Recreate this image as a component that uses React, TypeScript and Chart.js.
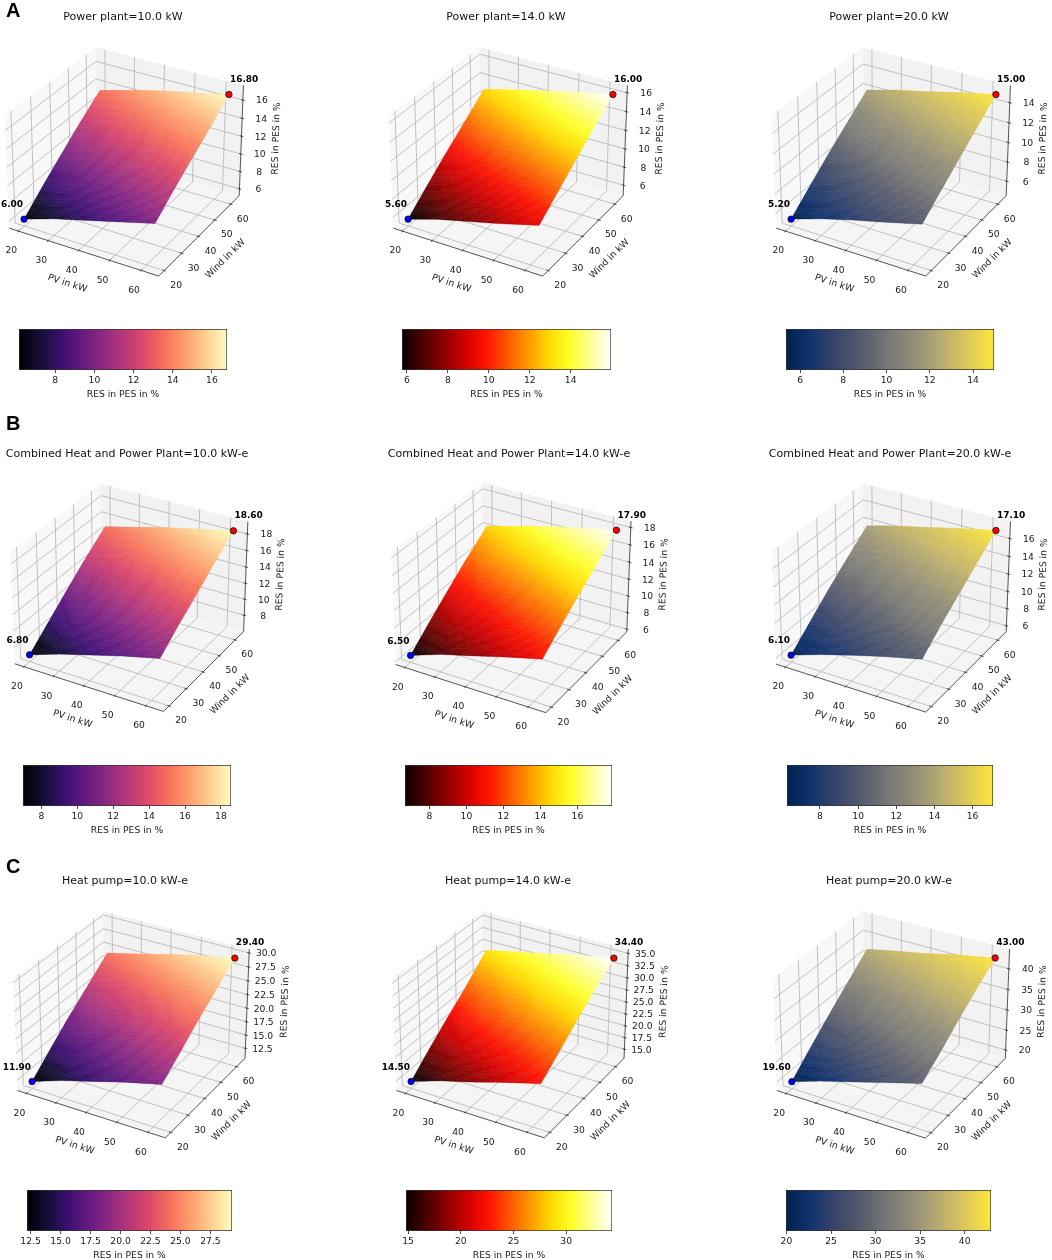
import React, { useEffect, useRef } from 'react';
import Chart from 'chart.js/auto';

const FONT = "'DejaVu Sans', sans-serif";
const AXIS_LABEL_PV = 'PV in kW';
const AXIS_LABEL_WIND = 'Wind in kW';
const AXIS_LABEL_RES = 'RES in PES in %';

// row A, B, C and left to right
const titles = [
  'Power plant=10.0 kW', 'Power plant=14.0 kW', 'Power plant=20.0 kW',
  'Combined Heat and Power Plant=10.0 kW-e', 'Combined Heat and Power Plant=14.0 kW-e', 'Combined Heat and Power Plant=20.0 kW-e',
  'Heat pump=10.0 kW-e', 'Heat pump=14.0 kW-e', 'Heat pump=20.0 kW-e',
];
const minValues = [6.0, 5.6, 5.2, 6.8, 6.5, 6.1, 11.9, 14.5, 19.6];
const maxValues = [16.8, 16.0, 15.0, 18.6, 17.9, 17.1, 29.4, 34.4, 43.0];

const pvGrid = [20, 30, 40, 50, 62.5];
const windGrid = [20, 30, 40, 50, 62.5];
const xyTicks = [20, 30, 40, 50, 60];

// surface values, one row per wind step, one column per pv step
const surfaces = [
  [[6.0, 7.1, 8.0, 8.9, 10.05], [7.9, 8.95, 9.8, 10.7, 11.75], [9.7, 10.7, 11.5, 12.4, 13.3], [11.45, 12.45, 13.2, 14.0, 14.8], [13.45, 14.35, 15.2, 15.9, 16.8]],
  [[5.6, 6.6, 7.4, 8.2, 9.3], [7.4, 8.35, 9.15, 9.9, 10.9], [9.15, 10.1, 10.9, 11.65, 12.5], [10.8, 11.75, 12.5, 13.25, 14.1], [12.9, 13.7, 14.45, 15.2, 16.0]],
  [[5.2, 6.2, 7.05, 7.8, 8.8], [6.9, 7.8, 8.65, 9.4, 10.3], [8.55, 9.45, 10.25, 10.95, 11.75], [10.1, 11.0, 11.75, 12.4, 13.2], [12.0, 12.8, 13.45, 14.2, 15.0]],
  [[6.8, 8.05, 9.1, 10.15, 11.3], [8.8, 10.1, 11.05, 12.0, 13.15], [10.8, 12.0, 12.85, 13.8, 14.8], [12.75, 13.85, 14.7, 15.6, 16.55], [14.95, 15.85, 16.8, 17.6, 18.6]],
  [[6.5, 7.75, 8.7, 9.7, 10.85], [8.5, 9.7, 10.55, 11.55, 12.6], [10.4, 11.5, 12.35, 13.25, 14.3], [12.25, 13.35, 14.1, 15.0, 15.85], [14.35, 15.25, 16.2, 17.0, 17.9]],
  [[6.1, 7.25, 8.25, 9.2, 10.25], [8.0, 9.15, 10.05, 11.0, 12.0], [9.9, 10.9, 11.75, 12.65, 13.6], [11.65, 12.65, 13.5, 14.3, 15.15], [13.75, 14.65, 15.4, 16.2, 17.1]],
  [[11.9, 13.8, 15.35, 16.95, 18.7], [15.0, 16.7, 18.2, 19.6, 21.3], [18.0, 19.5, 21.0, 22.3, 24.0], [20.7, 22.2, 23.5, 24.8, 26.4], [24.15, 25.45, 26.8, 28.1, 29.4]],
  [[14.5, 16.6, 18.3, 20.2, 22.4], [18.05, 20.1, 21.75, 23.4, 25.3], [21.4, 23.4, 24.95, 26.5, 28.3], [24.55, 26.45, 27.95, 29.5, 31.2], [29.0, 30.35, 31.6, 33.05, 34.4]],
  [[19.6, 22.05, 24.15, 26.3, 28.95], [23.95, 26.35, 28.2, 30.1, 32.2], [28.1, 30.35, 32.0, 33.75, 35.75], [32.05, 34.1, 35.7, 37.3, 39.05], [36.9, 38.35, 39.7, 41.35, 43.0]],
];

const zTicks = [
  [6, 8, 10, 12, 14, 16], [6, 8, 10, 12, 14, 16], [6, 8, 10, 12, 14],
  [8, 10, 12, 14, 16, 18], [6, 8, 10, 12, 14, 16, 18], [6, 8, 10, 12, 14, 16],
  [12.5, 15, 17.5, 20, 22.5, 25, 27.5, 30], [15, 17.5, 20, 22.5, 25, 27.5, 30, 32.5, 35], [20, 25, 30, 35, 40],
];
const barTicks = [
  [8, 10, 12, 14, 16], [6, 8, 10, 12, 14], [6, 8, 10, 12, 14],
  [8, 10, 12, 14, 16, 18], [8, 10, 12, 14, 16], [8, 10, 12, 14, 16],
  [12.5, 15, 17.5, 20, 22.5, 25, 27.5], [15, 20, 25, 30], [20, 25, 30, 35, 40],
];
const barMins = [6.15, 5.76, 5.35, 6.98, 6.68, 6.27, 12.2, 14.8, 19.95];
const barMaxs = [16.77, 15.97, 14.97, 18.56, 17.87, 17.07, 29.3, 34.35, 42.95];

const magma = ['#000004', '#140e36', '#3b0f70', '#641a80', '#8c2981', '#b73779', '#de4968', '#f7705c', '#fe9f6d', '#fecf92', '#fcfdbf'];
const hot = ['#0b0000', '#4c0000', '#8e0000', '#d00000', '#ff1200', '#ff5400', '#ff9600', '#ffd800', '#ffff28', '#ffff94', '#ffffff'];
const cividis = ['#00224e', '#0d2f6b', '#2c3f6b', '#47506c', '#5f626e', '#7a7a76', '#8f8a78', '#a9a073', '#c8b867', '#e3cd54', '#fee838'];
const colormaps = [magma, hot, cividis];

// placement on the page
const panelCx = [126.3, 510, 893, 131, 512.5, 893, 133, 512, 893];
const panelCy = [157, 157, 157, 593, 593, 593, 1020, 1020, 1020];
const panelScale = [198, 198, 198, 197, 199, 198, 196, 196, 196.5];
const titleX = [123, 506, 889, 127, 509, 890, 125, 508, 889];
const titleY = [16, 16, 16, 453, 453, 453, 880, 880, 880];
const barLeft = [19, 402, 786, 23, 405, 787, 27, 406, 786];
const barRight = [227, 611, 994, 231, 612, 993, 232, 612, 991];
const barTop = [329, 329, 329, 765, 765, 765, 1190, 1190, 1190];
const letters = ['A', 'B', 'C'];
const letterTop = [-1, 412, 855];

// axis box
const X_LIM = [16.9, 65.5];
const BOX_Z = 0.75;
const DIST = 10;
const U = [0.75, 0.433, 0];
const V = [-0.2165, 0.375, 0.75];
const W = [0.433, -0.75, 0.5];

const CANVAS_LEFT = 140;
const CANVAS_RIGHT = 160;
const CANVAS_UP = 150;
const CANVAS_DOWN = 145;
const SOFTEN = 'blur(0.35px)';

const dot = (a: number[], b: number[]) => a[0] * b[0] + a[1] * b[1] + a[2] * b[2];

// normalised box coords to the flat view plane
const viewOf = (nx: number, ny: number, nz: number) => {
  const d = [nx - 0.5, ny - 0.5, (nz - 0.5) * BOX_Z];
  const f = DIST / (DIST - dot(W, d));
  return { x: dot(U, d) * f, y: dot(V, d) * f };
};

const zLimits = (i: number) => {
  const r = maxValues[i] - minValues[i];
  const lo = minValues[i] - r * 0.05;
  const hi = maxValues[i] + r * 0.05;
  const pad = (hi - lo) / 48;
  return [lo - pad, hi + pad];
};

const normX = (v: number) => (v - X_LIM[0]) / (X_LIM[1] - X_LIM[0]);
const normZ = (i: number, v: number) => {
  const [lo, hi] = zLimits(i);
  return (v - lo) / (hi - lo);
};

const hexToRgb = (h: string) => [parseInt(h.slice(1, 3), 16), parseInt(h.slice(3, 5), 16), parseInt(h.slice(5, 7), 16)];

const colorAt = (stops: string[], t: number) => {
  const c = Math.min(Math.max(t, 0), 1) * (stops.length - 1);
  const k = Math.min(Math.floor(c), stops.length - 2);
  const a = hexToRgb(stops[k]);
  const b = hexToRgb(stops[k + 1]);
  const m = c - k;
  return `rgb(${Math.round(a[0] + (b[0] - a[0]) * m)},${Math.round(a[1] + (b[1] - a[1]) * m)},${Math.round(a[2] + (b[2] - a[2]) * m)})`;
};

// value of the surface between the read grid points, for shading the mesh
const surfaceAt = (i: number, fx: number, fy: number) => {
  const rows = surfaces[i];
  const a = Math.min(Math.floor(fx), pvGrid.length - 2);
  const b = Math.min(Math.floor(fy), windGrid.length - 2);
  const mx = fx - a;
  const my = fy - b;
  return (rows[b][a] * (1 - mx) + rows[b][a + 1] * mx) * (1 - my) + (rows[b + 1][a] * (1 - mx) + rows[b + 1][a + 1] * mx) * my;
};

const gridPos = (grid: number[], f: number) => {
  const a = Math.min(Math.floor(f), grid.length - 2);
  return grid[a] + (grid[a + 1] - grid[a]) * (f - a);
};

const MESH_STEPS = 60;

const axesPlugin = (i: number) => ({
  id: 'axes3d',
  beforeDatasetsDraw(chart: any) {
    const { ctx, scales } = chart;
    const px = (p: { x: number; y: number }) => [scales.x.getPixelForValue(p.x), scales.y.getPixelForValue(p.y)];
    const at = (nx: number, ny: number, nz: number) => px(viewOf(nx, ny, nz));
    const poly = (pts: number[][], fill: string, edge = false) => {
      ctx.beginPath();
      pts.forEach((p, k) => (k ? ctx.lineTo(p[0], p[1]) : ctx.moveTo(p[0], p[1])));
      ctx.closePath();
      ctx.fillStyle = fill;
      ctx.fill();
      if (edge) {
        ctx.strokeStyle = fill;
        ctx.lineWidth = 0.35;
        ctx.stroke();
      }
    };
    const line = (a: number[], b: number[], color: string, w: number) => {
      ctx.beginPath();
      ctx.moveTo(a[0], a[1]);
      ctx.lineTo(b[0], b[1]);
      ctx.strokeStyle = color;
      ctx.lineWidth = w;
      ctx.stroke();
    };
    const text = (s: string, x: number, y: number, rot = 0) => {
      ctx.save();
      ctx.translate(x, y);
      ctx.rotate((rot * Math.PI) / 180);
      ctx.fillStyle = '#1a1a1a';
      ctx.font = `9.2px ${FONT}`;
      ctx.textAlign = 'center';
      ctx.textBaseline = 'middle';
      ctx.fillText(s, 0, 0);
      ctx.restore();
    };

    ctx.save();
    // panes
    poly([at(0, 0, 0), at(0, 1, 0), at(0, 1, 1), at(0, 0, 1)], 'rgba(242,242,242,0.5)');
    poly([at(0, 1, 0), at(1, 1, 0), at(1, 1, 1), at(0, 1, 1)], 'rgba(230,230,230,0.5)');
    poly([at(0, 0, 0), at(1, 0, 0), at(1, 1, 0), at(0, 1, 0)], 'rgba(236,236,236,0.55)');

    // grid on the three panes
    const gridColor = '#b4b4b4';
    xyTicks.forEach((t) => {
      const n = normX(t);
      line(at(n, 0, 0), at(n, 1, 0), gridColor, 0.8);
      line(at(n, 1, 0), at(n, 1, 1), gridColor, 0.8);
      line(at(0, n, 0), at(1, n, 0), gridColor, 0.8);
      line(at(0, n, 0), at(0, n, 1), gridColor, 0.8);
    });
    zTicks[i].forEach((t) => {
      const n = normZ(i, t);
      line(at(0, 0, n), at(0, 1, n), gridColor, 0.8);
      line(at(0, 1, n), at(1, 1, n), gridColor, 0.8);
    });

    // axis lines and ticks
    const axisColor = '#2a2a2a';
    line(at(0, 0, 0), at(1, 0, 0), axisColor, 0.8);
    line(at(1, 0, 0), at(1, 1, 0), axisColor, 0.8);
    line(at(1, 1, 0), at(1, 1, 1), axisColor, 0.8);
    xyTicks.forEach((t) => {
      const n = normX(t);
      line(at(n, 0.012, 0), at(n, -0.012, 0), axisColor, 0.8);
      const p = at(n, 0, 0);
      text(String(t), p[0] - 7, p[1] + 20);
      line(at(1.012, n, 0), at(0.988, n, 0), axisColor, 0.8);
      const q = at(1, n, 0);
      text(String(t), q[0] + 12, q[1] + 15);
    });
    const decimals = !Number.isInteger(zTicks[i][1] - zTicks[i][0]);
    zTicks[i].forEach((t) => {
      const n = normZ(i, t);
      line(at(1.012, 1, n), at(0.988, 1, n), axisColor, 0.8);
      const p = at(1, 1, n);
      text(decimals ? t.toFixed(1) : String(t), p[0] + (decimals ? 17 : 19), p[1] + 1);
    });
    const pvMid = at(0.5, 0, 0);
    text(AXIS_LABEL_PV, pvMid[0] - 15, pvMid[1] + 32, 18);
    const windMid = at(1, 0.5, 0);
    text(AXIS_LABEL_WIND, windMid[0] + 25, windMid[1] + 24.5, -45);
    const zMid = at(1, 1, 0.5);
    text(AXIS_LABEL_RES, zMid[0] + (decimals ? 38 : 35), zMid[1] - 3, -88);

    // surface mesh, each cell coloured by its mean value
    const stops = colormaps[i % 3];
    const last = pvGrid.length - 1;
    for (let b = 0; b < MESH_STEPS; b++) {
      for (let a = 0; a < MESH_STEPS; a++) {
        const cells = [[a, b], [a + 1, b], [a + 1, b + 1], [a, b + 1]].map(([ca, cb]) => {
          const fx = (ca / MESH_STEPS) * last;
          const fy = (cb / MESH_STEPS) * last;
          const z = surfaceAt(i, fx, fy);
          return { z, p: at(normX(gridPos(pvGrid, fx)), normX(gridPos(windGrid, fy)), normZ(i, z)) };
        });
        const mean = (cells[0].z + cells[1].z + cells[2].z + cells[3].z) / 4;
        poly(cells.map((c) => c.p), colorAt(stops, (mean - barMins[i]) / (barMaxs[i] - barMins[i])), true);
      }
    }
    ctx.restore();
  },
  afterDatasetsDraw(chart: any) {
    const { ctx } = chart;
    const low = chart.getDatasetMeta(0).data[0];
    const high = chart.getDatasetMeta(1).data[0];
    ctx.save();
    ctx.fillStyle = '#000';
    ctx.font = `bold 9px ${FONT}`;
    ctx.textBaseline = 'middle';
    ctx.textAlign = 'right';
    ctx.fillText(minValues[i].toFixed(2), low.x - 1, low.y - 14);
    ctx.textAlign = 'left';
    ctx.fillText(maxValues[i].toFixed(2), high.x + 1, high.y - 15);
    ctx.restore();
  },
});

const Surface = ({ i }: { i: number }) => {
  const ref = useRef<HTMLCanvasElement>(null);

  useEffect(() => {
    if (!ref.current) return;
    const s = panelScale[i];
    const lowPoint = viewOf(normX(pvGrid[0]), normX(windGrid[0]), normZ(i, minValues[i]));
    const highPoint = viewOf(normX(pvGrid[4]), normX(windGrid[4]), normZ(i, maxValues[i]));
    const chart = new Chart(ref.current, {
      type: 'scatter',
      data: {
        datasets: [
          { data: [lowPoint], backgroundColor: '#0000ff', borderColor: '#111', borderWidth: 0.8, pointRadius: 3.2 },
          { data: [highPoint], backgroundColor: '#ff0000', borderColor: '#111', borderWidth: 0.8, pointRadius: 3.2 },
        ],
      },
      options: {
        responsive: false,
        animation: false,
        events: [],
        layout: { padding: 0, autoPadding: false },
        plugins: { legend: { display: false }, tooltip: { enabled: false } },
        scales: {
          x: { type: 'linear', display: false, min: -CANVAS_LEFT / s, max: CANVAS_RIGHT / s },
          y: { type: 'linear', display: false, min: -CANVAS_DOWN / s, max: CANVAS_UP / s },
        },
      },
      plugins: [axesPlugin(i)],
    } as any);
    return () => chart.destroy();
  }, [i]);

  return (
    <canvas
      ref={ref}
      width={CANVAS_LEFT + CANVAS_RIGHT}
      height={CANVAS_UP + CANVAS_DOWN}
      style={{ position: 'absolute', left: panelCx[i] - CANVAS_LEFT, top: panelCy[i] - CANVAS_UP, display: 'block', filter: SOFTEN }}
    />
  );
};

const BAR_SIDE = 16;
const BAR_HEIGHT = 41;
const BAR_AXIS = 32;

const ColorBar = ({ i }: { i: number }) => {
  const ref = useRef<HTMLCanvasElement>(null);

  useEffect(() => {
    if (!ref.current) return;
    const stops = colormaps[i % 3];
    const chart = new Chart(ref.current, {
      type: 'bar',
      data: {
        labels: [AXIS_LABEL_RES],
        datasets: [
          {
            data: [[barMins[i], barMaxs[i]]],
            barPercentage: 1,
            categoryPercentage: 1,
            borderColor: '#333',
            borderWidth: 1,
            borderSkipped: false,
            backgroundColor: (c: any) => {
              const area = c.chart.chartArea;
              if (!area) return stops[0];
              const g = c.chart.ctx.createLinearGradient(area.left, 0, area.right, 0);
              stops.forEach((col, k) => g.addColorStop(k / (stops.length - 1), col));
              return g;
            },
          },
        ],
      },
      options: {
        indexAxis: 'y',
        responsive: false,
        animation: false,
        events: [],
        layout: { padding: { left: BAR_SIDE, right: BAR_SIDE, top: 1, bottom: 0 }, autoPadding: false },
        plugins: { legend: { display: false }, tooltip: { enabled: false } },
        scales: {
          y: { display: false },
          x: {
            type: 'linear',
            min: barMins[i],
            max: barMaxs[i],
            afterBuildTicks: (ax: any) => {
              ax.ticks = barTicks[i].map((value) => ({ value }));
            },
            afterFit: (ax: any) => {
              ax.height = BAR_AXIS;
            },
            border: { display: false },
            grid: { drawOnChartArea: false, drawTicks: true, tickLength: 3, color: '#222', lineWidth: 0.8 },
            ticks: {
              color: '#1a1a1a',
              padding: 2,
              maxRotation: 0,
              autoSkip: false,
              font: { family: FONT, size: 9.2 },
              callback: (v: any) => (Number.isInteger(barTicks[i][1] - barTicks[i][0]) ? String(v) : Number(v).toFixed(1)),
            },
            title: {
              display: true,
              text: AXIS_LABEL_RES,
              color: '#1a1a1a',
              font: { family: FONT, size: 9.2 },
              padding: { top: 2, bottom: 2 },
            },
          },
        },
      },
    } as any);
    return () => chart.destroy();
  }, [i]);

  return (
    <canvas
      ref={ref}
      width={barRight[i] - barLeft[i] + 2 * BAR_SIDE}
      height={BAR_HEIGHT + BAR_AXIS + 1}
      style={{ position: 'absolute', left: barLeft[i] - BAR_SIDE, top: barTop[i] - 1, display: 'block', filter: SOFTEN }}
    />
  );
};

export default function App() {
  return (
    <div style={{ position: 'absolute', left: 0, top: 0, width: 1052, height: 1260, overflow: 'hidden', background: '#fff' }}>
      {titles.map((t, i) => (
        <React.Fragment key={t}>
          <Surface i={i} />
          <ColorBar i={i} />
          <div
            style={{
              position: 'absolute',
              left: titleX[i],
              top: titleY[i],
              transform: 'translate(-50%, -50%)',
              whiteSpace: 'nowrap',
              font: `11px ${FONT}`,
              color: '#111',
            }}
          >
            {t}
          </div>
        </React.Fragment>
      ))}
      {letters.map((l, k) => (
        <div
          key={l}
          style={{ position: 'absolute', left: 6, top: letterTop[k], font: "bold 20px 'Liberation Sans', Arial, sans-serif", color: '#000' }}
        >
          {l}
        </div>
      ))}
    </div>
  );
}
